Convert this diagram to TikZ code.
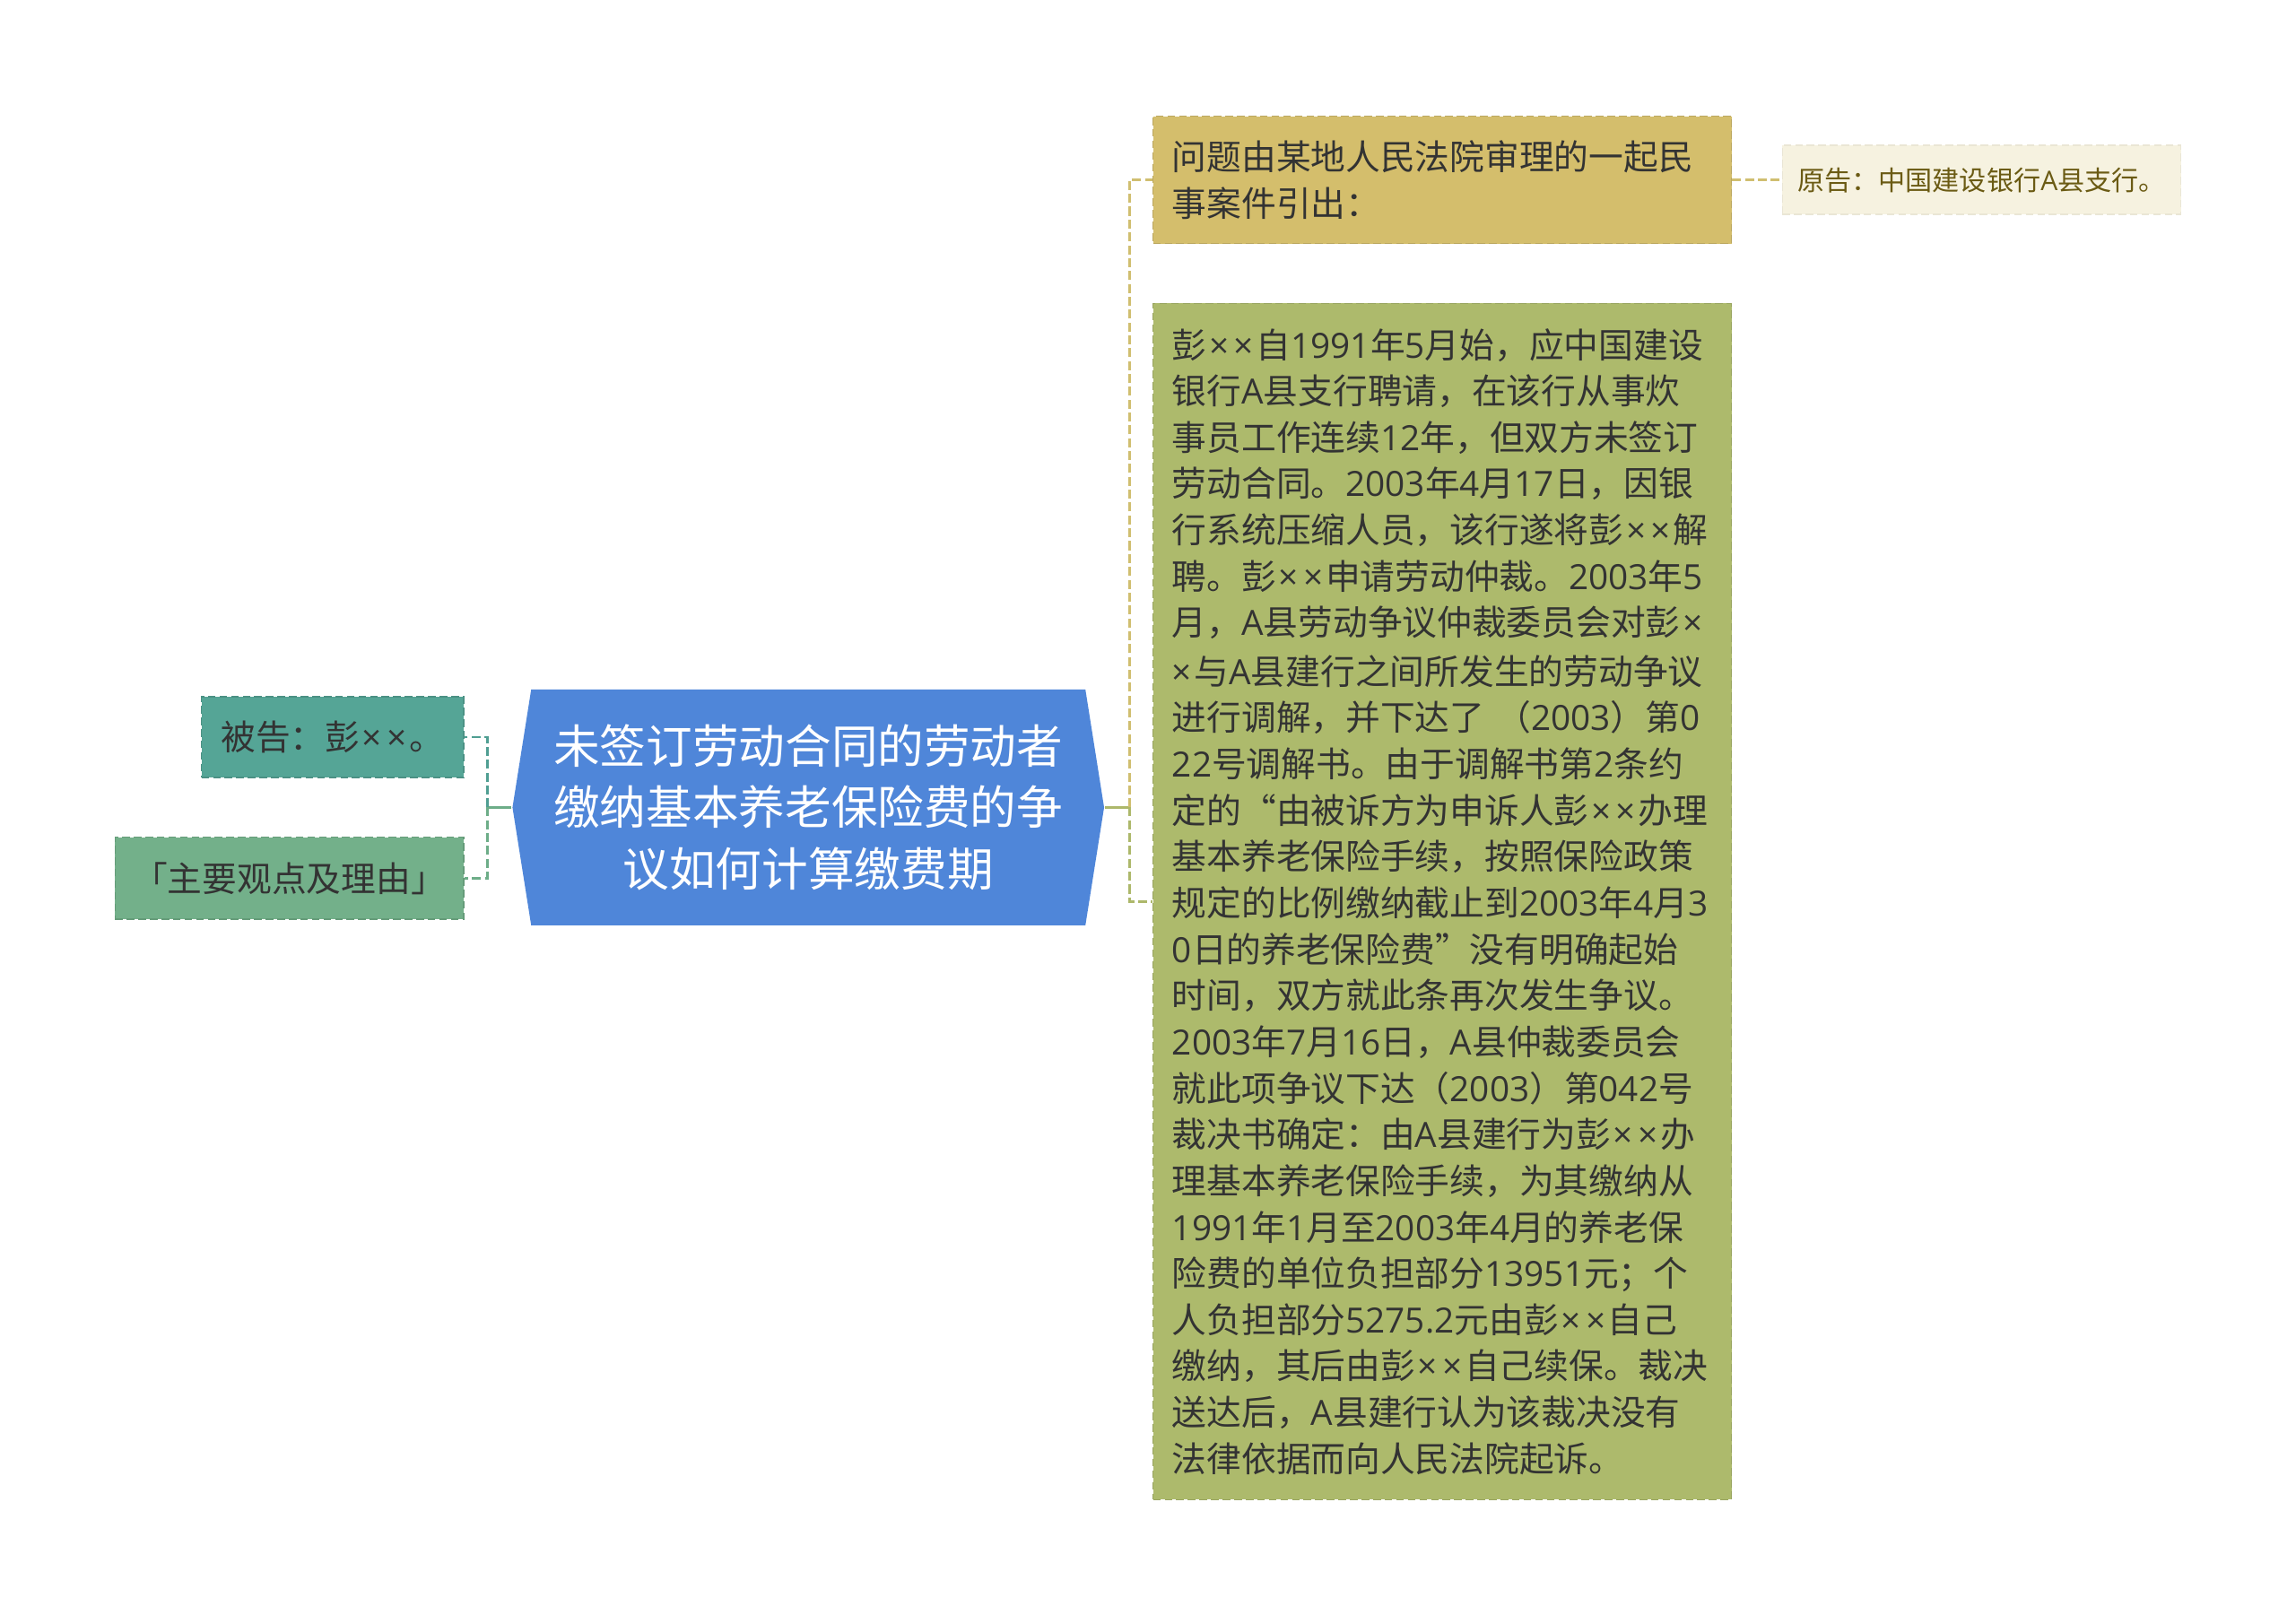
\documentclass[tikz,border=0pt]{standalone}
\usepackage{fontspec}
\newfontfamily\cjk{Noto Sans CJK SC}
\newfontfamily\latin{Open Sans}
\newcommand\lat[1]{{\latin#1}}
\newcommand\mul{{\latin\kern.07em×\kern.07em}}
\usetikzlibrary{positioning,shapes.symbols}
\definecolor{mainblue}{HTML}{4F86D9}
\definecolor{tealbox}{HTML}{55A596}
\definecolor{greenbox}{HTML}{73B08A}
\definecolor{goldbox}{HTML}{D4BE6C}
\definecolor{creambox}{HTML}{F6F2E0}
\definecolor{olivebox}{HTML}{ADBA6C}
\definecolor{tealline}{HTML}{4F9E92}
\definecolor{greenline}{HTML}{6DAD88}
\definecolor{goldline}{HTML}{D0BE70}
\definecolor{oliveline}{HTML}{ADB86B}
\definecolor{bodytext}{HTML}{333333}
\definecolor{plaintext}{HTML}{6B5B14}

\begin{document}
\begin{tikzpicture}[thick,
  box/.style={rectangle,fill=#1,draw=#1!88!black,line width=0.5pt,dash pattern=on 3pt off 1.5pt,
    text=bodytext,inner xsep=0.26cm,inner ysep=0.3cm,font=\cjk\fontsize{13.5}{18}\selectfont},
  link/.style={line width=0.95pt,dash pattern=on 3.5pt off 1.5pt},
  stem/.style={line width=0.95pt}]

  \fill[white] (0,0) rectangle (31.36,-22.06);
  \useasboundingbox (0,0) rectangle (31.36,-22.06);

  \node[signal,signal to=east and west,signal pointer angle=162,fill=mainblue,text=white,
    minimum width=8.08cm,minimum height=3.22cm,align=center,
    font=\cjk\fontsize{18}{23.8}\selectfont] (main) at (11.04,-11.03)
    {未签订劳动合同的劳动者\\缴纳基本养老保险费的争\\议如何计算缴费期};

  \node[box=tealbox,minimum width=3.58cm,minimum height=1.1cm,anchor=east] (defendant) at (6.34,-10.07) {被告：彭\mul\mul。};
  \node[box=greenbox,minimum width=4.76cm,minimum height=1.12cm,inner xsep=0.2cm] (views) [below=0.8cm of defendant.south east,anchor=north east] {「主要观点及理由」};

  \node[box=goldbox,text width=7.38cm,minimum height=1.74cm,align=left,anchor=north west] (origin) at (15.74,-1.58)
    {问题由某地人民法院审理的一起民\\事案件引出：};
  \node[box=creambox,text=plaintext,minimum width=5.44cm,minimum height=0.84cm,inner xsep=0.2cm,
    draw=creambox!95!black,font=\cjk\fontsize{10.5}{13}\selectfont] (plaintiff) [right=0.68cm of origin] {原告：中国建设银行\lat{A}县支行。};
  \node[box=olivebox,text width=7.38cm,minimum height=16.34cm,align=left] (facts) [below=0.8cm of origin.south west,anchor=north west]
    {彭\mul\mul 自\lat{1991}年\lat{5}月始，应中国建设\\
     银行\lat{A}县支行聘请，在该行从事炊\\
     事员工作连续\lat{12}年，但双方未签订\\
     劳动合同。\lat{2003}年\lat{4}月\lat{17}日，因银\\
     行系统压缩人员，该行遂将彭\mul\mul 解\\
     聘。彭\mul\mul 申请劳动仲裁。\lat{2003}年\lat{5}\\
     月，\lat{A}县劳动争议仲裁委员会对彭\mul\\
     \mul 与\lat{A}县建行之间所发生的劳动争议\\
     进行调解，并下达了~（\lat{2003}）第\lat{0}\\
     \lat{22}号调解书。由于调解书第\lat{2}条约\\
     定的“由被诉方为申诉人彭\mul\mul 办理\\
     基本养老保险手续，按照保险政策\\
     规定的比例缴纳截止到\lat{2003}年\lat{4}月\lat{3}\\
     \lat{0}日的养老保险费”没有明确起始\\
     时间，双方就此条再次发生争议。\\
     \lat{2003}年\lat{7}月\lat{16}日，\lat{A}县仲裁委员会\\
     就此项争议下达（\lat{2003}）第\lat{042}号\\
     裁决书确定：由\lat{A}县建行为彭\mul\mul 办\\
     理基本养老保险手续，为其缴纳从\\
     \lat{1991}年\lat{1}月至\lat{2003}年\lat{4}月的养老保\\
     险费的单位负担部分\lat{13951}元；个\\
     人负担部分\lat{5275.2}元由彭\mul\mul 自己\\
     缴纳，其后由彭\mul\mul 自己续保。裁决\\
     送达后，\lat{A}县建行认为该裁决没有\\
     法律依据而向人民法院起诉。};

  % left branches
  \draw[stem,greenline] (main.west) -- ++(-0.33,0) coordinate (lj);
  \draw[link,tealline] (lj) |- (defendant.east);
  \draw[link,greenline] (lj) |- (views.east);

  % right branches
  \draw[stem,oliveline] (main.east) -- ++(0.33,0) coordinate (rj);
  \draw[link,goldline] (rj) |- (origin.west);
  \draw[link,oliveline] (rj) |- (facts.west);
  \draw[link,goldline] (origin.east) -- (plaintiff.west);
\end{tikzpicture}
\end{document}
